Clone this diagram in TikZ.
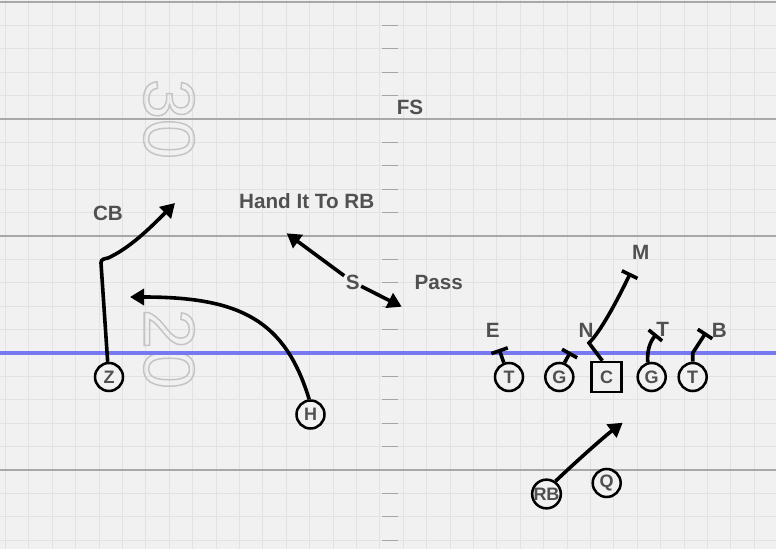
\documentclass[tikz,border=0pt]{standalone}
\usepackage{fontspec}
\setmainfont{Liberation Sans}
\usepackage{tikz}
\usepackage{color}
\usetikzlibrary{arrows.meta}

\definecolor{fieldbg}{RGB}{241,241,241}
\definecolor{gridgray}{RGB}{226,226,226}
\definecolor{yardgray}{RGB}{168,168,168}
\definecolor{hashgray}{RGB}{165,165,165}
\definecolor{scrimblue}{RGB}{120,120,240}
\definecolor{labelgray}{RGB}{80,80,80}
\definecolor{numgray}{RGB}{196,196,196}

\newcommand{\hollownum}[1]{\special{pdf:literal direct 1 Tr 1.1 w}#1\special{pdf:literal direct 0 Tr}}

\begin{document}
\begin{tikzpicture}[x=0.75pt,y=0.75pt,yscale=-1,xscale=1,
  gridline/.style={draw=gridgray,line width=0.75pt},
  yardline/.style={draw=yardgray,line width=1.8pt},
  hashmark/.style={draw=hashgray,line width=0.75pt},
  player/.style={circle,draw=black,line width=1.9pt,fill=fieldbg,minimum size=21pt,inner sep=0pt,text=labelgray,font=\fontsize{13.5}{13.5}\selectfont\bfseries},
  snapper/.style={player,rectangle,minimum size=22.5pt},
  lbl/.style={text=labelgray,font=\fontsize{15.5}{15.5}\selectfont\bfseries,inner sep=1pt},
  route/.style={line width=2.7pt,-{Triangle[length=10.5pt,width=12pt]}},
  block/.style={line width=2.7pt,-{Bar[width=13pt]}},
  yardnum/.style={text=numgray,rotate=-90,font=\fontsize{54}{54}\selectfont,inner sep=0pt}
]
%uncomment if require: \path (0,549); %set diagram left start at 0, and has height of 549
\useasboundingbox (0,0) rectangle (776,549);
\fill[fieldbg] (0,0) rectangle (776,549);

%Grid
\foreach \k in {0,...,32} \draw[gridline] ({5.5+23.4*\k},0) -- ({5.5+23.4*\k},549);
\foreach \k in {0,...,23} \draw[gridline] (0,{2+23.4*\k}) -- (776,{2+23.4*\k});

% Yard numbers
\node[yardnum] (thirty) at (169,119) {\hollownum{30}};
\node[yardnum] (twenty) at (169,349) {\hollownum{20}};

%Straight Lines: yard lines
\foreach \k in {0,1,2,4} \draw[yardline] (0,{2+117*\k}) -- (776,{2+117*\k});
%Straight Lines: hash marks
\foreach \k in {1,...,23}{
  \pgfmathtruncatemacro{\r}{mod(\k,5)}
  \ifnum\r>0 \draw[hashmark] (382,{2+23.4*\k}) -- (398,{2+23.4*\k}); \fi
}
%Straight Lines: line of scrimmage
\draw[draw=scrimblue,line width=2.6pt] (0,353) -- (776,353);

%Shape: Circle
\node[player] (z) at (109,377) {Z};
\node[player] (h) at (310.5,414.5) {H};
\node[player] (lt) at (509,377) {T};
\node[player] (lg) at (559.3,377) {G};
\node[snapper] (c) at (606.7,377) {C};
\node[player] (rg) at (651.7,377) {G};
\node[player] (rt) at (692.7,377) {T};
\node[player] (rb) at (546.5,494) {RB};
\node[player] (q) at (606.7,483) {Q};

% Text Node
\node[lbl] (fs) at (410,107) {FS};
\node[lbl] (cb) at (108,213) {CB};
\node[lbl] (hand) at (306.7,201) {Hand It To RB};
\node[lbl] (s) at (352.7,282) {S};
\node[lbl] (pass) at (438.7,282) {Pass};
\node[lbl] (m) at (640.7,252.5) {M};
\node[lbl] (e) at (492.7,330) {E};
\node[lbl] (n) at (586,330) {N};
\node[lbl] (t) at (662.7,329.5) {T};
\node[lbl] (b) at (719.3,330) {B};

% Route ends
\coordinate (zend) at (175,203);
\coordinate (hend) at (130,297);
\coordinate (sup) at (286.7,233.3);
\coordinate (sdown) at (401.7,306.7);
\coordinate (rbend) at (622.7,422.7);

%Curve Lines
\draw[route] (z.95) -- (101,263) .. controls (101,259) and (104,259) .. (108,258) .. controls (130,248) and (150,228) .. (zend);
\draw[route] (h.95) .. controls (285,320) and (240,297) .. (hend);
\draw[route] (s) -- (sup);
\draw[route] (s) -- (sdown);
\draw[route] (rb.55) .. controls (580,458) and (605,436) .. (rbend);

%Block Lines
\draw[block] (lt.110) -- (499,349);
\draw[block] (lg.70) -- (570.5,352);
\draw[block] (c.105) -- (589,343) .. controls (600,332) and (615,305) .. (630.5,273);
\draw[block] (rg.105) .. controls (647,350) and (650,342) .. (656.5,334);
\draw[block] (rt.north) -- (692.7,353) -- (706,332.5);

\end{tikzpicture}
\end{document}
